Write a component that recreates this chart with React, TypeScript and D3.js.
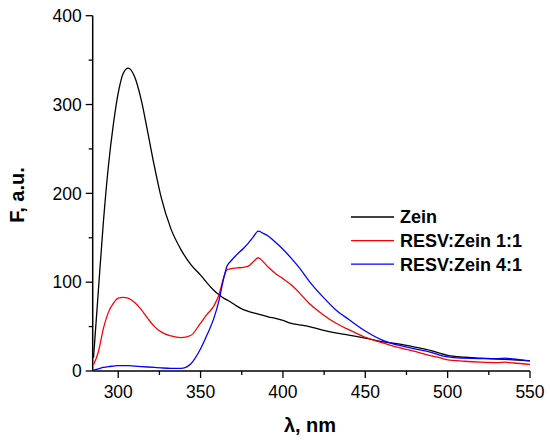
import { useRef, useEffect } from 'react';
import * as d3 from 'd3';

// Emission wavelength, nm
const wavelength = [
  285, 288, 291, 294, 297, 300, 303, 306, 310, 314, 318, 322, 326, 332, 338, 344, 350, 354, 358, 361,
  364, 366, 368, 372, 376, 379, 382, 385, 388, 391, 396, 400, 405, 410, 416, 424, 432, 440, 450, 460,
  470, 480, 490, 495, 500, 510, 520, 530, 535, 540, 550,
];

const zein = [
  15, 92, 168, 230, 277, 313, 335, 341, 331, 305, 268, 230, 196, 160, 137, 120, 108, 99, 91, 86,
  82, 80, 78, 73, 69, 67, 65.5, 64, 62.5, 61, 59, 57, 53.5, 52, 50, 46, 43, 40.5, 37, 33,
  30.5, 27, 23, 20, 17.5, 15.5, 14.5, 13.5, 13, 12.5, 11.5,
];

const resv11 = [
  7, 22, 48, 66, 76, 82, 83, 82, 77, 69, 59, 50, 44, 39.5, 37.5, 40, 54, 64, 73, 85,
  105, 114, 115, 116, 116.7, 118, 123, 127.5, 123, 117, 109, 104, 97, 88, 76, 64, 54, 46.5, 38, 32,
  26.5, 22, 17, 15, 12.5, 11, 10, 9.5, 10, 9, 7.5,
];

const resv41 = [
  1, 2.5, 4, 5, 5.5, 6, 6, 6, 5.5, 5, 4.5, 4, 3.5, 3, 3, 8, 25, 41, 59, 78,
  104, 118, 123, 131, 138, 144, 151, 157.5, 155, 152, 144, 137, 127, 116, 101, 84, 69, 58, 45, 35,
  29, 25, 21, 18, 16, 14.5, 14, 14, 14.5, 13.5, 11.5,
];

const seriesNames = ['Zein', 'RESV:Zein 1:1', 'RESV:Zein 4:1'];
const seriesValues = [zein, resv11, resv41];
const seriesColors = ['#000000', '#ff0000', '#0000ff'];

const xMajor = [300, 350, 400, 450, 500, 550];
const xMinor = [325, 375, 425, 475, 525];
const yMajor = [0, 100, 200, 300, 400];
const yMinor = [50, 150, 250, 350];

const WIDTH = 550;
const HEIGHT = 443;
const FONT = '"Liberation Sans", Arial, sans-serif';

export default function App() {
  const svgRef = useRef<SVGSVGElement>(null);

  useEffect(() => {
    document.body.style.margin = '0';
    if (!svgRef.current) return;
    const svg = d3.select(svgRef.current);
    svg.selectAll('*').remove();

    const x = d3.scaleLinear().domain([284.5, 550]).range([92.7, 530]);
    const y = d3.scaleLinear().domain([0, 400]).range([371, 15.7]);

    // ── Axes ────────────────────────────────────────────────────────────────
    const xAxis = svg.append('g').attr('transform', `translate(0,${y(0)})`);
    xAxis
      .append('line')
      .attr('x1', x.range()[0])
      .attr('x2', x.range()[1])
      .attr('stroke', '#000')
      .attr('stroke-width', 1.5);
    xAxis
      .selectAll('line.major')
      .data(xMajor)
      .join('line')
      .attr('class', 'major')
      .attr('x1', (d) => x(d))
      .attr('x2', (d) => x(d))
      .attr('y1', 0)
      .attr('y2', 7)
      .attr('stroke', '#000')
      .attr('stroke-width', 1.3);
    xAxis
      .selectAll('line.minor')
      .data(xMinor)
      .join('line')
      .attr('class', 'minor')
      .attr('x1', (d) => x(d))
      .attr('x2', (d) => x(d))
      .attr('y1', 0)
      .attr('y2', 4)
      .attr('stroke', '#000')
      .attr('stroke-width', 1.3);
    xAxis
      .selectAll('text')
      .data(xMajor)
      .join('text')
      .attr('x', (d) => x(d))
      .attr('y', 27)
      .attr('text-anchor', 'middle')
      .attr('font-family', FONT)
      .attr('font-size', 17.5)
      .text((d) => d);

    const yAxis = svg.append('g').attr('transform', `translate(${x.range()[0]},0)`);
    yAxis
      .append('line')
      .attr('y1', y.range()[0])
      .attr('y2', y.range()[1])
      .attr('stroke', '#000')
      .attr('stroke-width', 1.5);
    yAxis
      .selectAll('line.major')
      .data(yMajor)
      .join('line')
      .attr('class', 'major')
      .attr('x1', 0)
      .attr('x2', -7)
      .attr('y1', (d) => y(d))
      .attr('y2', (d) => y(d))
      .attr('stroke', '#000')
      .attr('stroke-width', 1.3);
    yAxis
      .selectAll('line.minor')
      .data(yMinor)
      .join('line')
      .attr('class', 'minor')
      .attr('x1', 0)
      .attr('x2', -4)
      .attr('y1', (d) => y(d))
      .attr('y2', (d) => y(d))
      .attr('stroke', '#000')
      .attr('stroke-width', 1.3);
    yAxis
      .selectAll('text')
      .data(yMajor)
      .join('text')
      .attr('x', -11)
      .attr('y', (d) => y(d))
      .attr('dy', '0.36em')
      .attr('text-anchor', 'end')
      .attr('font-family', FONT)
      .attr('font-size', 17.5)
      .text((d) => d);

    // Axis titles
    svg
      .append('text')
      .attr('transform', 'translate(24,195) rotate(-90)')
      .attr('text-anchor', 'middle')
      .attr('font-family', FONT)
      .attr('font-weight', 'bold')
      .attr('font-size', 20)
      .text('F, a.u.');

    svg
      .append('text')
      .attr('x', 310)
      .attr('y', 432)
      .attr('text-anchor', 'middle')
      .attr('font-family', FONT)
      .attr('font-weight', 'bold')
      .attr('font-size', 20)
      .text('λ, nm');

    // ── Spectra ─────────────────────────────────────────────────────────────
    const line = d3
      .line<number>()
      .x((_, i) => x(wavelength[i]))
      .y((d) => y(d))
      .curve(d3.curveMonotoneX);

    seriesValues.forEach((vals, k) => {
      svg
        .append('path')
        .datum(vals)
        .attr('fill', 'none')
        .attr('stroke', seriesColors[k])
        .attr('stroke-width', 1.3)
        .attr('d', line);
    });

    // ── Legend ──────────────────────────────────────────────────────────────
    const legend = svg.append('g');
    seriesNames.forEach((name, k) => {
      const ly = 217 + k * 23.6;
      legend
        .append('line')
        .attr('x1', 351)
        .attr('x2', 394)
        .attr('y1', ly)
        .attr('y2', ly)
        .attr('stroke', seriesColors[k])
        .attr('stroke-width', 1.3);
      legend
        .append('text')
        .attr('x', 400)
        .attr('y', ly)
        .attr('dy', '0.36em')
        .attr('font-family', FONT)
        .attr('font-weight', 'bold')
        .attr('font-size', 18)
        .text(name);
    });
  }, []);

  return (
    <svg
      ref={svgRef}
      width={WIDTH}
      height={HEIGHT}
      viewBox={`0 0 ${WIDTH} ${HEIGHT}`}
      style={{ display: 'block', background: '#fff' }}
    />
  );
}
